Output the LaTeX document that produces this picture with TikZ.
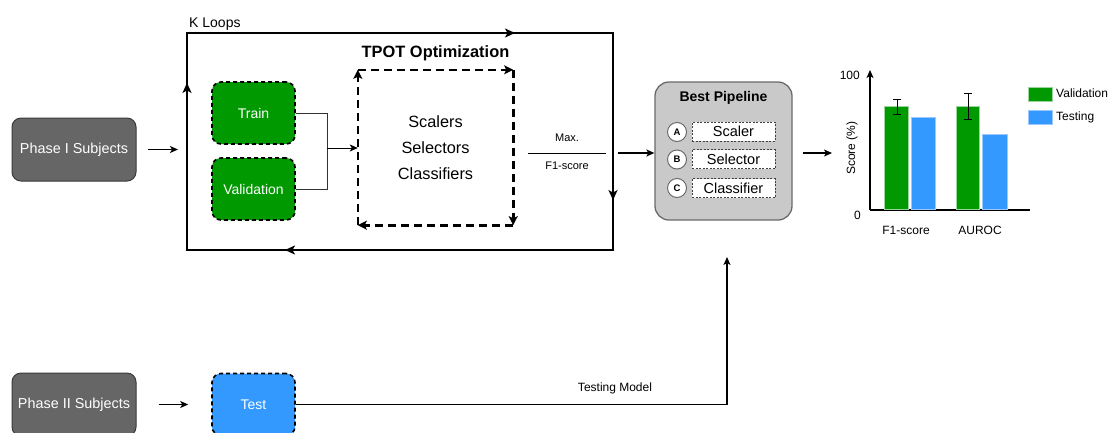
\documentclass[tikz,border=0pt]{standalone}
\usepackage{fontspec}
\setmainfont{Liberation Sans}
\usetikzlibrary{arrows.meta,decorations.markings}
\definecolor{phgray}{HTML}{666666}
\definecolor{phedge}{HTML}{3A3A3A}
\definecolor{gbox}{HTML}{009900}
\definecolor{gbar}{HTML}{009900}
\definecolor{gbaredge}{HTML}{9BD49B}
\definecolor{bbox}{HTML}{3399FF}
\definecolor{bbaredge}{HTML}{9CC8FF}
\definecolor{bpfill}{HTML}{C9C9C9}
\definecolor{bpedge}{HTML}{6B6B6B}
\begin{document}
\begin{tikzpicture}[x=1pt,y=-1pt,
  arr/.style={-{Stealth[length=8pt,width=7pt,inset=2pt]}, line width=1.2pt},
  thinarr/.style={-{Stealth[length=8pt,width=7pt,inset=2pt]}, line width=1pt},
  phase/.style={rectangle, rounded corners=9pt, fill=phgray, draw=phedge, line width=1pt, text=white,
    minimum width=124pt, minimum height=63pt, inner sep=0pt, font=\fontsize{14.4}{17}\selectfont},
  databox/.style={rectangle, rounded corners=9pt, draw=black, dash pattern=on 4pt off 3pt, line width=1.6pt,
    text=white, minimum width=83pt, minimum height=62pt, inner sep=0pt, font=\fontsize{14}{17}\selectfont},
  kmark/.style={line width=1.8pt, line cap=rect, postaction={decorate},
    decoration={markings, mark=at position 0.77 with {\arrow{Stealth[length=10pt,width=9pt,inset=2.5pt]}}}},
  tdash/.style={line width=2.6pt, dash pattern=on 8pt off 5pt, -{Stealth[length=9pt,width=9pt,inset=2pt]}},
  circ/.style={circle, fill=white, draw=bpedge, line width=1pt, minimum size=19pt, inner sep=0pt,
    font=\bfseries\fontsize{9.5}{10}\selectfont},
  stepbox/.style={rectangle, fill=white, draw=black!75, dash pattern=on 2pt off 1.5pt, line width=0.8pt,
    minimum width=83pt, minimum height=19pt, inner sep=0pt, font=\fontsize{14.5}{16}\selectfont},
  lbl/.style={inner sep=0pt, font=\fontsize{12}{14}\selectfont},
  bar/.style={line width=0.8pt}
]
\clip (0,0) rectangle (1115,432);
\fill[white] (0,0) rectangle (1115,432);

% Phase boxes
\node[phase] (p1) at (74,149.5) {Phase I Subjects};
\node[phase] (p2) at (74,404.5) {Phase II Subjects};

% K loops frame
\coordinate (k1) at (187,33);
\coordinate (k2) at (613,33);
\coordinate (k3) at (613,250);
\coordinate (k4) at (187,250);
\draw[kmark] (k4) -- (k1);
\draw[kmark] (k1) -- (k2);
\draw[kmark] (k2) -- (k3);
\draw[kmark] (k3) -- (k4);
\node[anchor=base west, inner sep=0pt, font=\fontsize{14}{16}\selectfont] (kl) at (189,27) {K Loops};

\draw[arr, shorten <=11pt, shorten >=9pt] (p1.east) -- (p1.east -| k1);

% TPOT
\node[inner sep=0pt, font=\bfseries\fontsize{16.4}{19}\selectfont] (tt) at (435.5,53) {TPOT Optimization};
\node[align=center, minimum width=155pt, minimum height=155pt, inner sep=0pt,
  font=\fontsize{16.3}{26}\selectfont] (tp) at (435.5,147.5) {Scalers\\Selectors\\Classifiers};
\draw[tdash] (tp.north west) -- (tp.north east);
\draw[tdash] (tp.north east) -- (tp.south east);
\draw[tdash] (tp.south east) -- (tp.south west);
\draw[tdash] (tp.south west) -- (tp.north west);

% Train / Validation
\node[databox, fill=gbox] (tr) at (253.5,113) {Train};
\node[databox, fill=gbox] (va) at (253.5,189) {Validation};
\coordinate (j) at (327,148);
\draw[line width=0.9pt, black!80] (tr.east) -| (j);
\draw[line width=0.9pt, black!80] (va.east) -| (j);
\draw[thinarr] (j) -- (tp.west |- j);

% Max F1-score
\coordinate (ls) at (528,153);
\coordinate (le) at (606,153);
\coordinate (ar) at (618,153);
\draw[line width=1pt] (ls) -- (le);
\node[inner sep=0pt, font=\fontsize{11}{13}\selectfont] (mx) at (567,138) {Max.};
\node[inner sep=0pt, font=\fontsize{11}{13}\selectfont] (fs) at (567,166) {F1-score};

% Best pipeline
\node[rectangle, rounded corners=14pt, fill=bpfill, draw=bpedge, line width=1.3pt,
  minimum width=137pt, minimum height=138pt] (bp) at (723.5,151) {};
\node[inner sep=0pt, font=\bfseries\fontsize{14}{16}\selectfont] (bt) at (723.5,98) {Best Pipeline};
\node[circ] (ca) at (677,132) {A};
\node[circ] (cb) at (677,159.5) {B};
\node[circ] (cc) at (677,188) {C};
\node[stepbox] (sa) at (733.5,131.5) {Scaler};
\node[stepbox] (sb) at (733.5,159) {Selector};
\node[stepbox] (sc) at (733.5,188) {Classifier};
\draw[arr] (ar) -- (bp.west |- ar);

% Test
\node[databox, fill=bbox] (ts) at (253.5,404.5) {Test};
\draw[arr, shorten <=22pt, shorten >=23pt] (p2.east) -- (ts.west);
\coordinate (tm) at (727,257);
\draw[arr] (ts.east) -| (tm);
\node[inner sep=0pt, font=\fontsize{12}{14}\selectfont] (tml) at (615,388) {Testing Model};

% Chart
\coordinate (ch) at (832,153);
\draw[arr] (bp.east |- ch) ++(10,0) -- (ch);
\coordinate (o) at (870,210);
\coordinate (ytop) at (870,70);
\coordinate (xend) at (1030,210);
\draw[arr] (o) -- (ytop);
\draw[line width=1.2pt] (o) -- (xend);
\node[lbl, anchor=east] (l100) at (860,75) {100};
\node[lbl, anchor=east] (l0) at (861,215) {0};
\node[lbl, rotate=90] (ys) at (852,148) {Score (\%)};
\draw[bar, fill=gbar, draw=gbaredge] (884,106) rectangle (908,209.4);
\draw[bar, fill=bbox, draw=bbaredge] (911,117) rectangle (935,209.4);
\draw[bar, fill=gbar, draw=gbaredge] (956,106) rectangle (979,209.4);
\draw[bar, fill=bbox, draw=bbaredge] (982,134) rectangle (1007,209.4);
\draw[line width=1pt] (897,99) -- (897,114) (893,99) -- (901,99) (893,114) -- (901,114);
\draw[line width=1pt] (968,93) -- (968,119) (964,93) -- (972,93) (964,119) -- (972,119);
\node[lbl] (xf1) at (906,230) {F1-score};
\node[lbl] (xau) at (980,230) {AUROC};
\draw[bar, fill=gbar, draw=gbaredge] (1028,87) rectangle (1052,101);
\draw[bar, fill=bbox, draw=bbaredge] (1028,110) rectangle (1052,124);
\node[lbl, anchor=west] (lv) at (1056,93) {Validation};
\node[lbl, anchor=west] (lt) at (1056,117) {Testing};
\end{tikzpicture}
\end{document}
